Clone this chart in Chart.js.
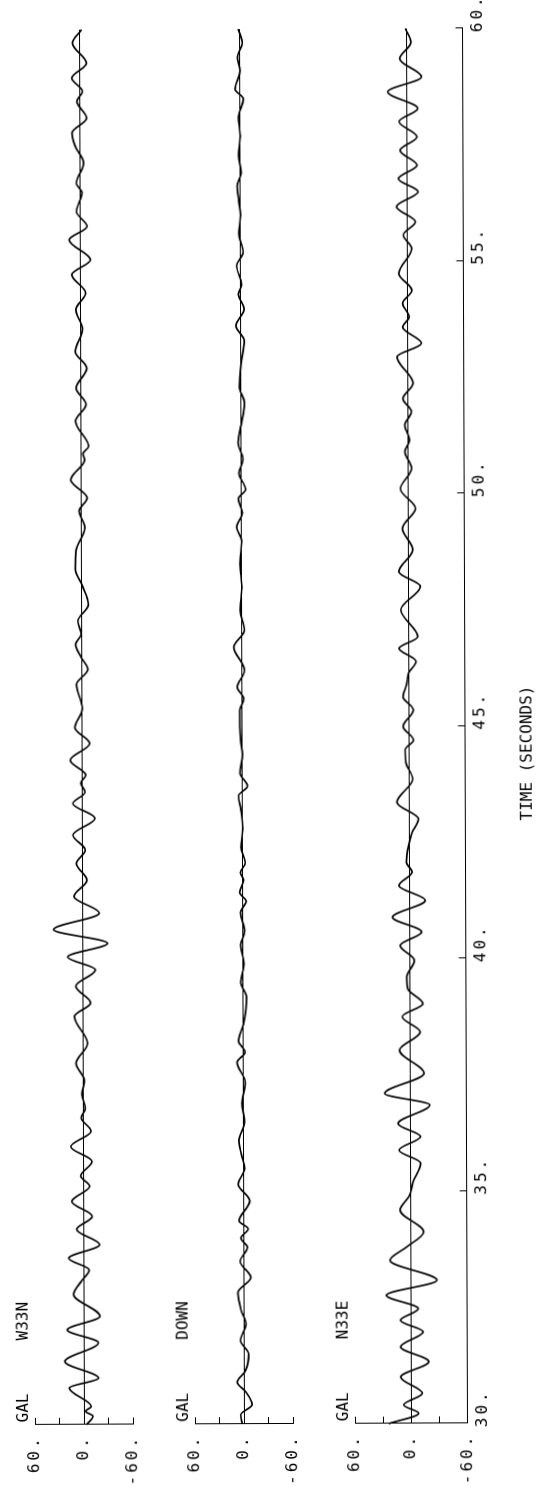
<!DOCTYPE html>
<html><head><meta charset="utf-8">
<script src="https://cdn.jsdelivr.net/npm/chart.js@4.4.1/dist/chart.umd.min.js"></script>
<style>
html,body{margin:0;padding:0;background:#fff;overflow:hidden;width:550px;height:1487px;}
#rot{position:absolute;left:0;top:0;width:1530px;height:550px;transform-origin:0 0;transform:translate(0.22px,1487px) rotate(-90.205deg);}
.box{position:absolute;left:0;width:1530px;}
canvas{display:block;}
</style></head><body>
<div id="rot">
 <div class="box" style="top:0;height:160px"><canvas id="c1" width="1530" height="160"></canvas></div>
 <div class="box" style="top:160px;height:160px"><canvas id="c2" width="1530" height="160"></canvas></div>
 <div class="box" style="top:320px;height:230px"><canvas id="c3" width="1530" height="230"></canvas></div>
</div>
<script>
// ---- data (time in seconds, acceleration in gal) ----
const traceNames = ['W33N', 'DOWN', 'N33E'];
const unitLabel = 'GAL';
const timeTitle = 'TIME (SECONDS)';
const xTickValues = [30, 35, 40, 45, 50, 55, 60];
const xTickLabels = ['30.', '35.', '40.', '45.', '50.', '55.', '60.'];
const yTickValues = [60, 30, 0, -30, -60];
const yTickLabels = ['60.', '', '0.', '', '-60.'];

const w33nTime = [30.0,30.18,30.29,30.39,30.79,31.0,31.36,31.76,32.04,32.33,32.8,33.1,33.33,33.58,33.87,34.2,34.48,34.8,35.13,35.35,35.66,35.98,36.31,36.6,36.81,37.1,37.4,37.77,38.2,38.78,39.07,39.43,39.78,40.06,40.35,40.65,41.0,41.36,41.71,42.07,42.36,42.68,43.04,43.36,43.6,43.8,43.97,44.29,44.65,44.99,45.4,45.92,46.24,46.5,46.78,47.0,47.28,47.64,48.03,48.4,48.8,49.29,49.65,49.93,50.32,50.75,50.88,51.04,51.58,51.94,52.29,52.72,53.08,53.55,53.98,54.34,54.73,55.05,55.48,55.77,56.09,56.49,56.7,57.13,57.49,57.78,58.1,58.46,58.67,58.96,59.28,59.71,60.0];
const w33nGal = [-3,-11,-2,-9,18,-18,23,-18,20,-20,12,2,-7,18,-20,8,-11,14,-8,3,-11,15,-10,2,-3,1,-2,8,-6,10,-10,8,-16,18,-31,35,-21,10,-6,7,-4,11,-16,11,-4,1,-5,14,-10,8,-1,6,-8,0,7,0,4,-9,-2,7,6,-5,2,-8,12,-5,-3,-10,6,-7,5,-8,6,-3,5,-7,10,-13,13,-9,4,-3,4,-5,5,9,-9,3,-4,9,-9,8,-3];

const downTime = [30.0,30.2,30.42,30.7,30.9,31.15,31.5,31.8,32.15,32.45,32.83,33.15,33.5,33.8,34.0,34.2,34.37,34.8,35.16,35.5,35.8,36.09,36.5,36.9,37.35,37.78,38.0,38.24,38.6,39.18,39.5,39.9,40.3,40.6,41.0,41.25,41.43,41.7,41.86,42.07,42.4,42.8,43.2,43.51,43.72,44.0,44.4,44.7,45.0,45.35,45.6,45.85,46.21,46.71,47.07,47.5,48.0,48.5,49.0,49.29,49.6,49.9,50.1,50.45,50.75,51.1,51.5,51.97,52.3,52.8,53.3,53.62,53.98,54.3,54.5,54.91,55.2,55.6,56.0,56.3,56.63,56.9,57.3,57.7,58.1,58.5,58.71,59.1,59.4,59.7,60.0];
const downGal = [2,4,-10,-2,8,-2,-6,4,-3,3,7,-9,4,-5,3,-6,5,-8,6,-2,2,5,-2,1,-3,7,-3,5,-1,-5,2,-2,2,-3,2,-5,3,-2,2,-4,1,-1,1,4,-7,2,-1,1,2,2,-3,5,-4,9,-4,1,-1,1,-1,5,-2,3,-6,2,-3,3,-1,-5,1,-1,-5,5,-5,2,-2,4,-4,1,-1,1,3,-2,1,-1,1,-5,5,-1,2,-4,1];

const n33eTime = [30.0,30.22,30.4,30.65,31.0,31.33,31.65,31.97,32.22,32.47,32.76,33.08,33.51,33.8,34.12,34.59,34.9,35.2,35.6,35.88,36.17,36.45,36.85,37.1,37.53,38.03,38.42,38.75,39.03,39.35,39.6,39.96,40.28,40.57,40.89,41.25,41.57,41.86,42.07,42.4,42.7,43.0,43.36,43.86,44.2,44.49,44.7,44.99,45.35,45.63,45.9,46.14,46.39,46.67,46.92,47.5,48.0,48.32,48.79,49.25,49.68,50.1,50.54,50.9,51.15,51.47,51.76,52.04,52.37,52.94,53.23,53.58,53.8,54.09,54.37,54.73,55.27,55.56,55.84,56.17,56.49,56.77,57.06,57.38,57.67,58.0,58.28,58.64,58.96,59.35,59.71,60.0];
const n33eGal = [24,-8,8,-12,11,-19,11,-13,11,-8,26,-28,22,4,-14,11,1,-3,-11,12,-11,13,-21,27,-15,11,-11,8,-14,2,3,-5,10,-13,18,-17,11,-3,3,1,-3,-10,13,-4,3,4,-5,6,-5,6,2,0,-8,10,-10,8,-13,10,-5,6,-8,8,-4,3,-2,3,-4,5,-6,11,-15,5,-2,5,-5,9,-5,4,-9,11,-12,9,-11,7,-11,8,-12,20,-16,7,-5,1];

const traceTimes = [w33nTime, downTime, n33eTime];
const traceValues = [w33nGal, downGal, n33eGal];

// ---- styling ----
const FONT = 'DejaVu Sans Mono';
Chart.defaults.font.family = FONT;
Chart.defaults.font.size = 16;
Chart.defaults.color = '#000';

const textPlugin = {
  id: 'plotterText',
  beforeDraw(chart) { chart.ctx.letterSpacing = '0px'; },
  afterDatasetsDraw(chart) { chart.ctx.letterSpacing = '3px'; },
  afterDraw(chart, args, opts) {
    const ctx = chart.ctx;
    ctx.save();
    ctx.letterSpacing = '0px';
    ctx.font = '16px "' + FONT + '"';
    ctx.fillStyle = '#000';
    ctx.textBaseline = 'alphabetic';
    ctx.textAlign = 'left';
    const top = chart.chartArea.top;
    ctx.fillText(unitLabel, 64.5, top - 7);
    ctx.fillText(opts.name, 146.5, top - 7);
    if (opts.showTitle) {
      const xs = chart.scales.x;
      ctx.textAlign = 'center';
      ctx.textBaseline = 'middle';
      ctx.fillText(timeTitle, (xs.left + xs.right) / 2 - 27.5, xs.bottom - 20.5);
    }
    ctx.restore();
  }
};

function makeChart(id, idx, bottom) {
  const data = traceTimes[idx].map((t, i) => ({x: t, y: traceValues[idx][i]}));
  return new Chart(document.getElementById(id), {
    type: 'line',
    data: { datasets: [{
      data, borderColor: '#000', borderWidth: 1.7, pointRadius: 0,
      cubicInterpolationMode: 'monotone', fill: false, clip: false
    }]},
    plugins: [textPlugin],
    options: {
      responsive: false, animation: false, devicePixelRatio: 1,
      layout: { padding: { left: 0, right: 73, top: 35, bottom: bottom ? 0 : 12.5 } },
      plugins: { legend: {display: false}, tooltip: {enabled: false},
                 plotterText: { name: traceNames[idx], showTitle: bottom } },
      scales: {
        x: {
          type: 'linear', min: 30, max: 60, display: bottom,
          afterBuildTicks: s => { s.ticks = xTickValues.map(v => ({value: v})); },
          afterFit: s => { if (bottom) s.height = 82.5; },
          border: { display: true, color: '#000', width: 1 },
          grid: { drawOnChartArea: false, drawTicks: true, tickLength: -7, tickColor: '#000', lineWidth: 1 },
          ticks: { z: 1, align: 'center', labelOffset: 15, padding: 13, maxRotation: 0, minRotation: 0, autoSkip: false,
                   color: '#000', font: { family: FONT, size: 16 },
                   callback: (v, i) => xTickLabels[i] },
          title: { display: false }
        },
        y: {
          type: 'linear', min: -60, max: 60,
          afterBuildTicks: s => { s.ticks = yTickValues.map(v => ({value: v})); },
          afterFit: s => { s.width = 62; },
          border: { display: true, color: '#000', width: 1 },
          grid: { drawOnChartArea: true, drawTicks: true, tickLength: -7, tickColor: '#000', lineWidth: 1,
                  color: c => (c.tick && c.tick.value === 0) ? '#000' : 'rgba(0,0,0,0)' },
          ticks: { z: 1, padding: 17.4, color: '#000', font: { family: FONT, size: 16 },
                   callback: (v, i) => yTickLabels[i] }
        }
      }
    }
  });
}
makeChart('c1', 0, false);
makeChart('c2', 1, false);
makeChart('c3', 2, true);
</script>
</body></html>
